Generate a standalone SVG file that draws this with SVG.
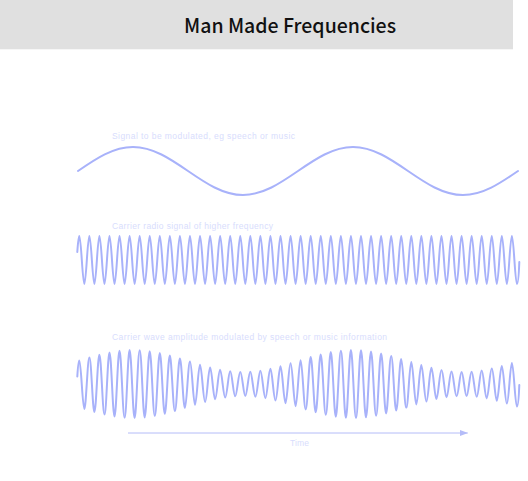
<svg xmlns="http://www.w3.org/2000/svg" width="528" height="481" viewBox="0 0 528 481">
<style>
.wave{fill:none;stroke:#a8b2fa;stroke-width:2;stroke-linejoin:round;stroke-linecap:round}
.lbl{font-family:"Liberation Sans",Arial,sans-serif;font-size:8.5px;fill:#d8ddfd}
.title{font-family:"Noto Sans CJK SC","Noto Sans",sans-serif;font-size:20px;font-weight:500;fill:#111}
</style>
<defs>
<marker id="ah" viewBox="0 0 8 6" refX="7.7" refY="3" markerWidth="8" markerHeight="6" markerUnits="userSpaceOnUse" orient="auto">
<path d="M0,0 L8,3 L0,6 Z" fill="#b4bcf8"/>
</marker>
</defs>
<rect width="528" height="481" fill="#ffffff"/>
<g id="header">
<rect x="0" y="0" width="513" height="49.3" fill="#e0e0e0"/>
<text class="title" x="184" y="33" textLength="212" lengthAdjust="spacingAndGlyphs">Man Made Frequencies</text>
</g>
<g id="signal">
<text class="lbl" x="112" y="138.5" textLength="183" lengthAdjust="spacing">Signal to be modulated, eg speech or music</text>
<path class="wave" d="M78,171 c17.94,-12.3 35.09,-24 55,-24 c40,0 70,48 110,48 s70,-48 110,-48 s70,48 110,48 c19.91,0 37.06,-11.7 55,-24"/>
</g>
<g id="carrier">
<text class="lbl" x="112" y="229" textLength="161" lengthAdjust="spacing">Carrier radio signal of higher frequency</text>
<path class="wave" d="M77.3,252 C77.9,243 78.6,236 79.3,236 c1.83,0 3.2,48 5.03,48
s3.2,-48 5.03,-48 s3.2,48 5.03,48 s3.2,-48 5.03,-48 s3.2,48 5.03,48 s3.2,-48 5.03,-48 s3.2,48 5.03,48 s3.2,-48 5.03,-48 s3.2,48 5.03,48 s3.2,-48 5.03,-48 s3.2,48 5.03,48
s3.2,-48 5.03,-48 s3.2,48 5.03,48 s3.2,-48 5.03,-48 s3.2,48 5.03,48 s3.2,-48 5.03,-48 s3.2,48 5.03,48 s3.2,-48 5.03,-48 s3.2,48 5.03,48 s3.2,-48 5.03,-48 s3.2,48 5.03,48
s3.2,-48 5.03,-48 s3.2,48 5.03,48 s3.2,-48 5.03,-48 s3.2,48 5.03,48 s3.2,-48 5.03,-48 s3.2,48 5.03,48 s3.2,-48 5.03,-48 s3.2,48 5.03,48 s3.2,-48 5.03,-48 s3.2,48 5.03,48
s3.2,-48 5.03,-48 s3.2,48 5.03,48 s3.2,-48 5.03,-48 s3.2,48 5.03,48 s3.2,-48 5.03,-48 s3.2,48 5.03,48 s3.2,-48 5.03,-48 s3.2,48 5.03,48 s3.2,-48 5.03,-48 s3.2,48 5.03,48
s3.2,-48 5.03,-48 s3.2,48 5.03,48 s3.2,-48 5.03,-48 s3.2,48 5.03,48 s3.2,-48 5.03,-48 s3.2,48 5.03,48 s3.2,-48 5.03,-48 s3.2,48 5.03,48 s3.2,-48 5.03,-48 s3.2,48 5.03,48
s3.2,-48 5.03,-48 s3.2,48 5.03,48 s3.2,-48 5.03,-48 s3.2,48 5.03,48 s3.2,-48 5.03,-48 s3.2,48 5.03,48 s3.2,-48 5.03,-48 s3.2,48 5.03,48 s3.2,-48 5.03,-48 s3.2,48 5.03,48
s3.2,-48 5.03,-48 s3.2,48 5.03,48 s3.2,-48 5.03,-48 s3.2,48 5.03,48 s3.2,-48 5.03,-48 s3.2,48 5.03,48 s3.2,-48 5.03,-48 s3.2,48 5.03,48 s3.2,-48 5.03,-48 s3.2,48 5.03,48
s3.2,-48 5.03,-48 s3.2,48 5.03,48 s3.2,-48 5.03,-48 s3.2,48 5.03,48 s3.2,-48 5.03,-48 s3.2,48 5.03,48 s3.2,-48 5.03,-48 s3.2,48 5.03,48 s3.2,-48 5.03,-48 s3.2,48 5.03,48
s3.2,-48 5.03,-48 s3.2,48 5.03,48 s3.2,-48 5.03,-48 s3.2,48 5.03,48 s3.2,-48 5.03,-48 s3.2,48 5.03,48
c1.4,0 2.1,-14 2.4,-22"/>
</g>
<g id="am">
<text class="lbl" x="112" y="340" textLength="275" lengthAdjust="spacing">Carrier wave amplitude modulated by speech or music information</text>
<path class="wave" d="M77.3,376.5 C77.9,367 78.6,360.6 79.3,360.6 C81.1,360.6 82.5,409 84.3,409
S87.5,357.5 89.4,357.5 S92.6,412 94.4,412 S97.6,354.7 99.4,354.7 S102.6,414.5 104.5,414.5 S107.7,352.4 109.5,352.4
S112.7,416.5 114.5,416.5 S117.7,350.8 119.5,350.8 S122.7,417.7 124.6,417.7 S127.8,350.1 129.6,350.1 S132.8,418 134.6,418
S137.8,350.2 139.7,350.2 S142.9,417.4 144.7,417.4 S147.9,351.2 149.7,351.2 S152.9,416 154.8,416 S158,353.1 159.8,353.1
S163,413.8 164.8,413.8 S168,355.6 169.8,355.6 S173,411 174.9,411 S178.1,358.5 179.9,358.5 S183.1,408 184.9,408
S188.1,361.6 190,361.6 S193.2,404.8 195,404.8 S198.2,364.7 200,364.7 S203.2,401.9 205.1,401.9 S208.3,367.5 210.1,367.5
S213.3,399.3 215.1,399.3 S218.3,369.7 220.1,369.7 S223.3,397.4 225.2,397.4 S228.4,371.3 230.2,371.3 S233.4,396.3 235.2,396.3
S238.4,372 240.3,372 S243.5,396 245.3,396 S248.5,371.8 250.3,371.8 S253.5,396.7 255.4,396.7 S258.6,370.7 260.4,370.7
S263.6,398.2 265.4,398.2 S268.6,368.8 270.4,368.8 S273.6,400.4 275.5,400.4 S278.7,366.3 280.5,366.3 S283.7,403.2 285.5,403.2
S288.7,363.3 290.6,363.3 S293.8,406.2 295.6,406.2 S298.8,360.2 300.6,360.2 S303.8,409.4 305.7,409.4 S308.9,357.1 310.7,357.1
S313.9,412.3 315.7,412.3 S318.9,354.4 320.7,354.4 S323.9,414.8 325.8,414.8 S329,352.1 330.8,352.1 S334,416.7 335.8,416.7
S339,350.7 340.9,350.7 S344.1,417.8 345.9,417.8 S349.1,350 350.9,350 S354.1,418 356,418 S359.2,350.3 361,350.3
S364.2,417.3 366,417.3 S369.2,351.4 371,351.4 S374.2,415.7 376.1,415.7 S379.3,353.4 381.1,353.4 S384.3,413.4 386.1,413.4
S389.3,355.9 391.2,355.9 S394.4,410.6 396.2,410.6 S399.4,358.9 401.2,358.9 S404.4,407.6 406.3,407.6 S409.5,362 411.3,362
S414.5,404.4 416.3,404.4 S419.5,365.1 421.3,365.1 S424.5,401.5 426.4,401.5 S429.6,367.8 431.4,367.8 S434.6,399 436.4,399
S439.6,370 441.5,370 S444.7,397.2 446.5,397.2 S449.7,371.4 451.5,371.4 S454.7,396.2 456.6,396.2 S459.8,372 461.6,372
S464.8,396.1 466.6,396.1 S469.8,371.7 471.6,371.7 S474.8,396.8 476.7,396.8 S479.9,370.5 481.7,370.5 S484.9,398.4 486.7,398.4
S489.9,368.5 491.8,368.5 S495,400.7 496.8,400.7 S500,365.9 501.8,365.9 S505,403.6 506.9,403.6 S510.1,362.9 511.9,362.9
S515.1,406.6 516.9,406.6 C518.3,406.6 519,393 519.3,385"/>
</g>
<g id="connectors">
<line x1="128" y1="433" x2="467.7" y2="433" stroke="#b4bcf8" stroke-width="1" marker-end="url(#ah)"/>
</g>
<g id="time-label">
<text class="lbl" x="290" y="446" textLength="19" lengthAdjust="spacing">Time</text>
</g>
</svg>
